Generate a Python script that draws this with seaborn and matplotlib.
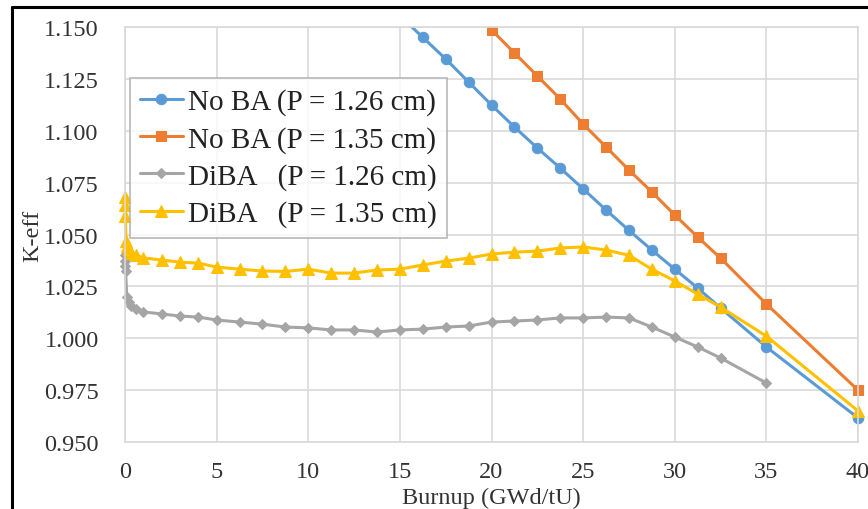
import matplotlib
matplotlib.use('Agg')
import matplotlib.pyplot as plt
import matplotlib.patches as mpatches
import seaborn as sns
import pandas as pd
import numpy as np

sns.set_theme(style="whitegrid")
plt.rcParams['font.family'] = ['Liberation Serif', 'DejaVu Serif']

# Data
burnup_noba_126 = [15.0, 16.25, 17.5, 18.75, 20.0, 21.25, 22.5, 23.75, 25.0, 26.25,
                   27.5, 28.75, 30.0, 31.25, 32.5, 35.0, 40.0]
keff_noba_126 = [1.1555, 1.1450, 1.1346, 1.1235, 1.1124, 1.1018, 1.0917, 1.0820, 1.0720, 1.0618,
                 1.0520, 1.0425, 1.0333, 1.0242, 1.0146, 0.9958, 0.9616]

burnup_noba_135 = [20.0, 21.25, 22.5, 23.75, 25.0, 26.25, 27.5, 28.75, 30.0, 31.25,
                   32.5, 35.0, 40.0]
keff_noba_135 = [1.1486, 1.1375, 1.1264, 1.1153, 1.1032, 1.0922, 1.0811, 1.0705, 1.0594, 1.0488,
                 1.0386, 1.0165, 0.9750]

burnup_diba_126 = [0.0, 0.01, 0.02, 0.03, 0.1, 0.2, 0.35, 0.6, 1.0, 2.0, 3.0, 4.0, 5.0, 6.25,
                   7.5, 8.75, 10.0, 11.25, 12.5, 13.75, 15.0, 16.25, 17.5, 18.75, 20.0, 21.25,
                   22.5, 23.75, 25.0, 26.25, 27.5, 28.75, 30.0, 31.25, 32.5, 35.0]
keff_diba_126 = [1.0400, 1.0372, 1.0348, 1.0324, 1.0200, 1.0175, 1.0155, 1.0140, 1.0127, 1.0117,
                 1.0107, 1.0102, 1.0088, 1.0078, 1.0068, 1.0054, 1.0050, 1.0040, 1.0040, 1.0030,
                 1.0040, 1.0044, 1.0054, 1.0059, 1.0078, 1.0083, 1.0088, 1.0098, 1.0098, 1.0102,
                 1.0098, 1.0054, 1.0006, 0.9958, 0.9905, 0.9784]

burnup_diba_135 = [0.0, 0.01, 0.02, 0.05, 0.1, 0.2, 0.35, 0.6, 1.0, 2.0, 3.0, 4.0, 5.0, 6.25,
                   7.5, 8.75, 10.0, 11.25, 12.5, 13.75, 15.0, 16.25, 17.5, 18.75, 20.0, 21.25,
                   22.5, 23.75, 25.0, 26.25, 27.5, 28.75, 30.0, 31.25, 32.5, 35.0, 40.0]
keff_diba_135 = [1.0680, 1.0640, 1.0590, 1.0469, 1.0445, 1.0430, 1.0410, 1.0400, 1.0387, 1.0377,
                 1.0367, 1.0362, 1.0343, 1.0333, 1.0324, 1.0322, 1.0333, 1.0314, 1.0314, 1.0329,
                 1.0333, 1.0353, 1.0372, 1.0386, 1.0406, 1.0415, 1.0420, 1.0435, 1.0440, 1.0425,
                 1.0400, 1.0333, 1.0276, 1.0213, 1.0150, 1.0010, 0.9650]

series = [
    ('No BA (P = 1.26 cm)', burnup_noba_126, keff_noba_126, '#5B9BD5', 'o', 7.5),
    ('No BA (P = 1.35 cm)', burnup_noba_135, keff_noba_135, '#ED7D31', 's', 7.5),
    ('DiBA   (P = 1.26 cm)', burnup_diba_126, keff_diba_126, '#A5A5A5', 'D', 5.5),
    ('DiBA   (P = 1.35 cm)', burnup_diba_135, keff_diba_135, '#FFC000', '^', 8.5),
]

fig = plt.figure(figsize=(8.68, 5.10), dpi=100)
ax = fig.add_axes([125 / 868, (510 - 443) / 510, 733 / 868, 415 / 510])
ax.set_facecolor('white')

# clip only at top/bottom so edge markers stay whole like in Excel
clip_rect = mpatches.Rectangle((-0.05, 0), 1.1, 1, transform=ax.transAxes,
                               facecolor='none', edgecolor='none')

for label, x, y, color, marker, ms in series:
    df = pd.DataFrame({'burnup': x, 'keff': y})
    n_before = len(ax.lines)
    sns.lineplot(data=df, x='burnup', y='keff', ax=ax, color=color, marker=marker,
                 markersize=ms, markeredgecolor=color, linewidth=2.2, label=label,
                 estimator=None, sort=False)
    for ln in ax.lines[n_before:]:
        ln.set_clip_path(clip_rect)

ax.set_xlim(0, 40)
ax.set_ylim(0.950, 1.150)
ax.set_xticks(np.arange(0, 41, 5))
ax.set_yticks(np.arange(0.950, 1.1501, 0.025))
ax.set_yticklabels([f'{v:.3f}' for v in np.arange(0.950, 1.1501, 0.025)])
ax.tick_params(axis='y', labelsize=17.5, pad=19, colors='#333333', length=0)
ax.tick_params(axis='x', labelsize=17.5, pad=14, colors='#333333', length=0)
ax.grid(True, color='#d9d9d9', linewidth=1.2)
for sp in ax.spines.values():
    sp.set_color('#d9d9d9')
    sp.set_linewidth(1.2)

ax.set_xlabel('Burnup (GWd/tU)', fontsize=17.5, color='#333333')
ax.set_ylabel('K-eff', fontsize=17.5, color='#333333')
ax.xaxis.set_label_coords(0.5, -0.108)
ax.yaxis.set_label_coords(-0.111, 0.5)

leg = ax.legend(loc='upper left', bbox_to_anchor=(130 / 868, 1 - 79 / 510),
                bbox_transform=fig.transFigure, fontsize=21, frameon=True,
                fancybox=False, handlelength=1.45, handletextpad=0.2,
                borderpad=0.35, labelspacing=0.36, borderaxespad=0)
leg.get_frame().set_edgecolor('#a6a6a6')
leg.get_frame().set_linewidth(1.2)
for t in leg.get_texts():
    t.set_color('#222222')

# outer border of the screenshot
fig.add_artist(plt.Line2D([12 / 868, 12 / 868], [0, 1 - 8 / 510],
                          transform=fig.transFigure, color='black', linewidth=2.2))
fig.add_artist(plt.Line2D([12 / 868, 1], [1 - 8 / 510, 1 - 8 / 510],
                          transform=fig.transFigure, color='black', linewidth=2.2))

fig.savefig('out.png', dpi=100)
